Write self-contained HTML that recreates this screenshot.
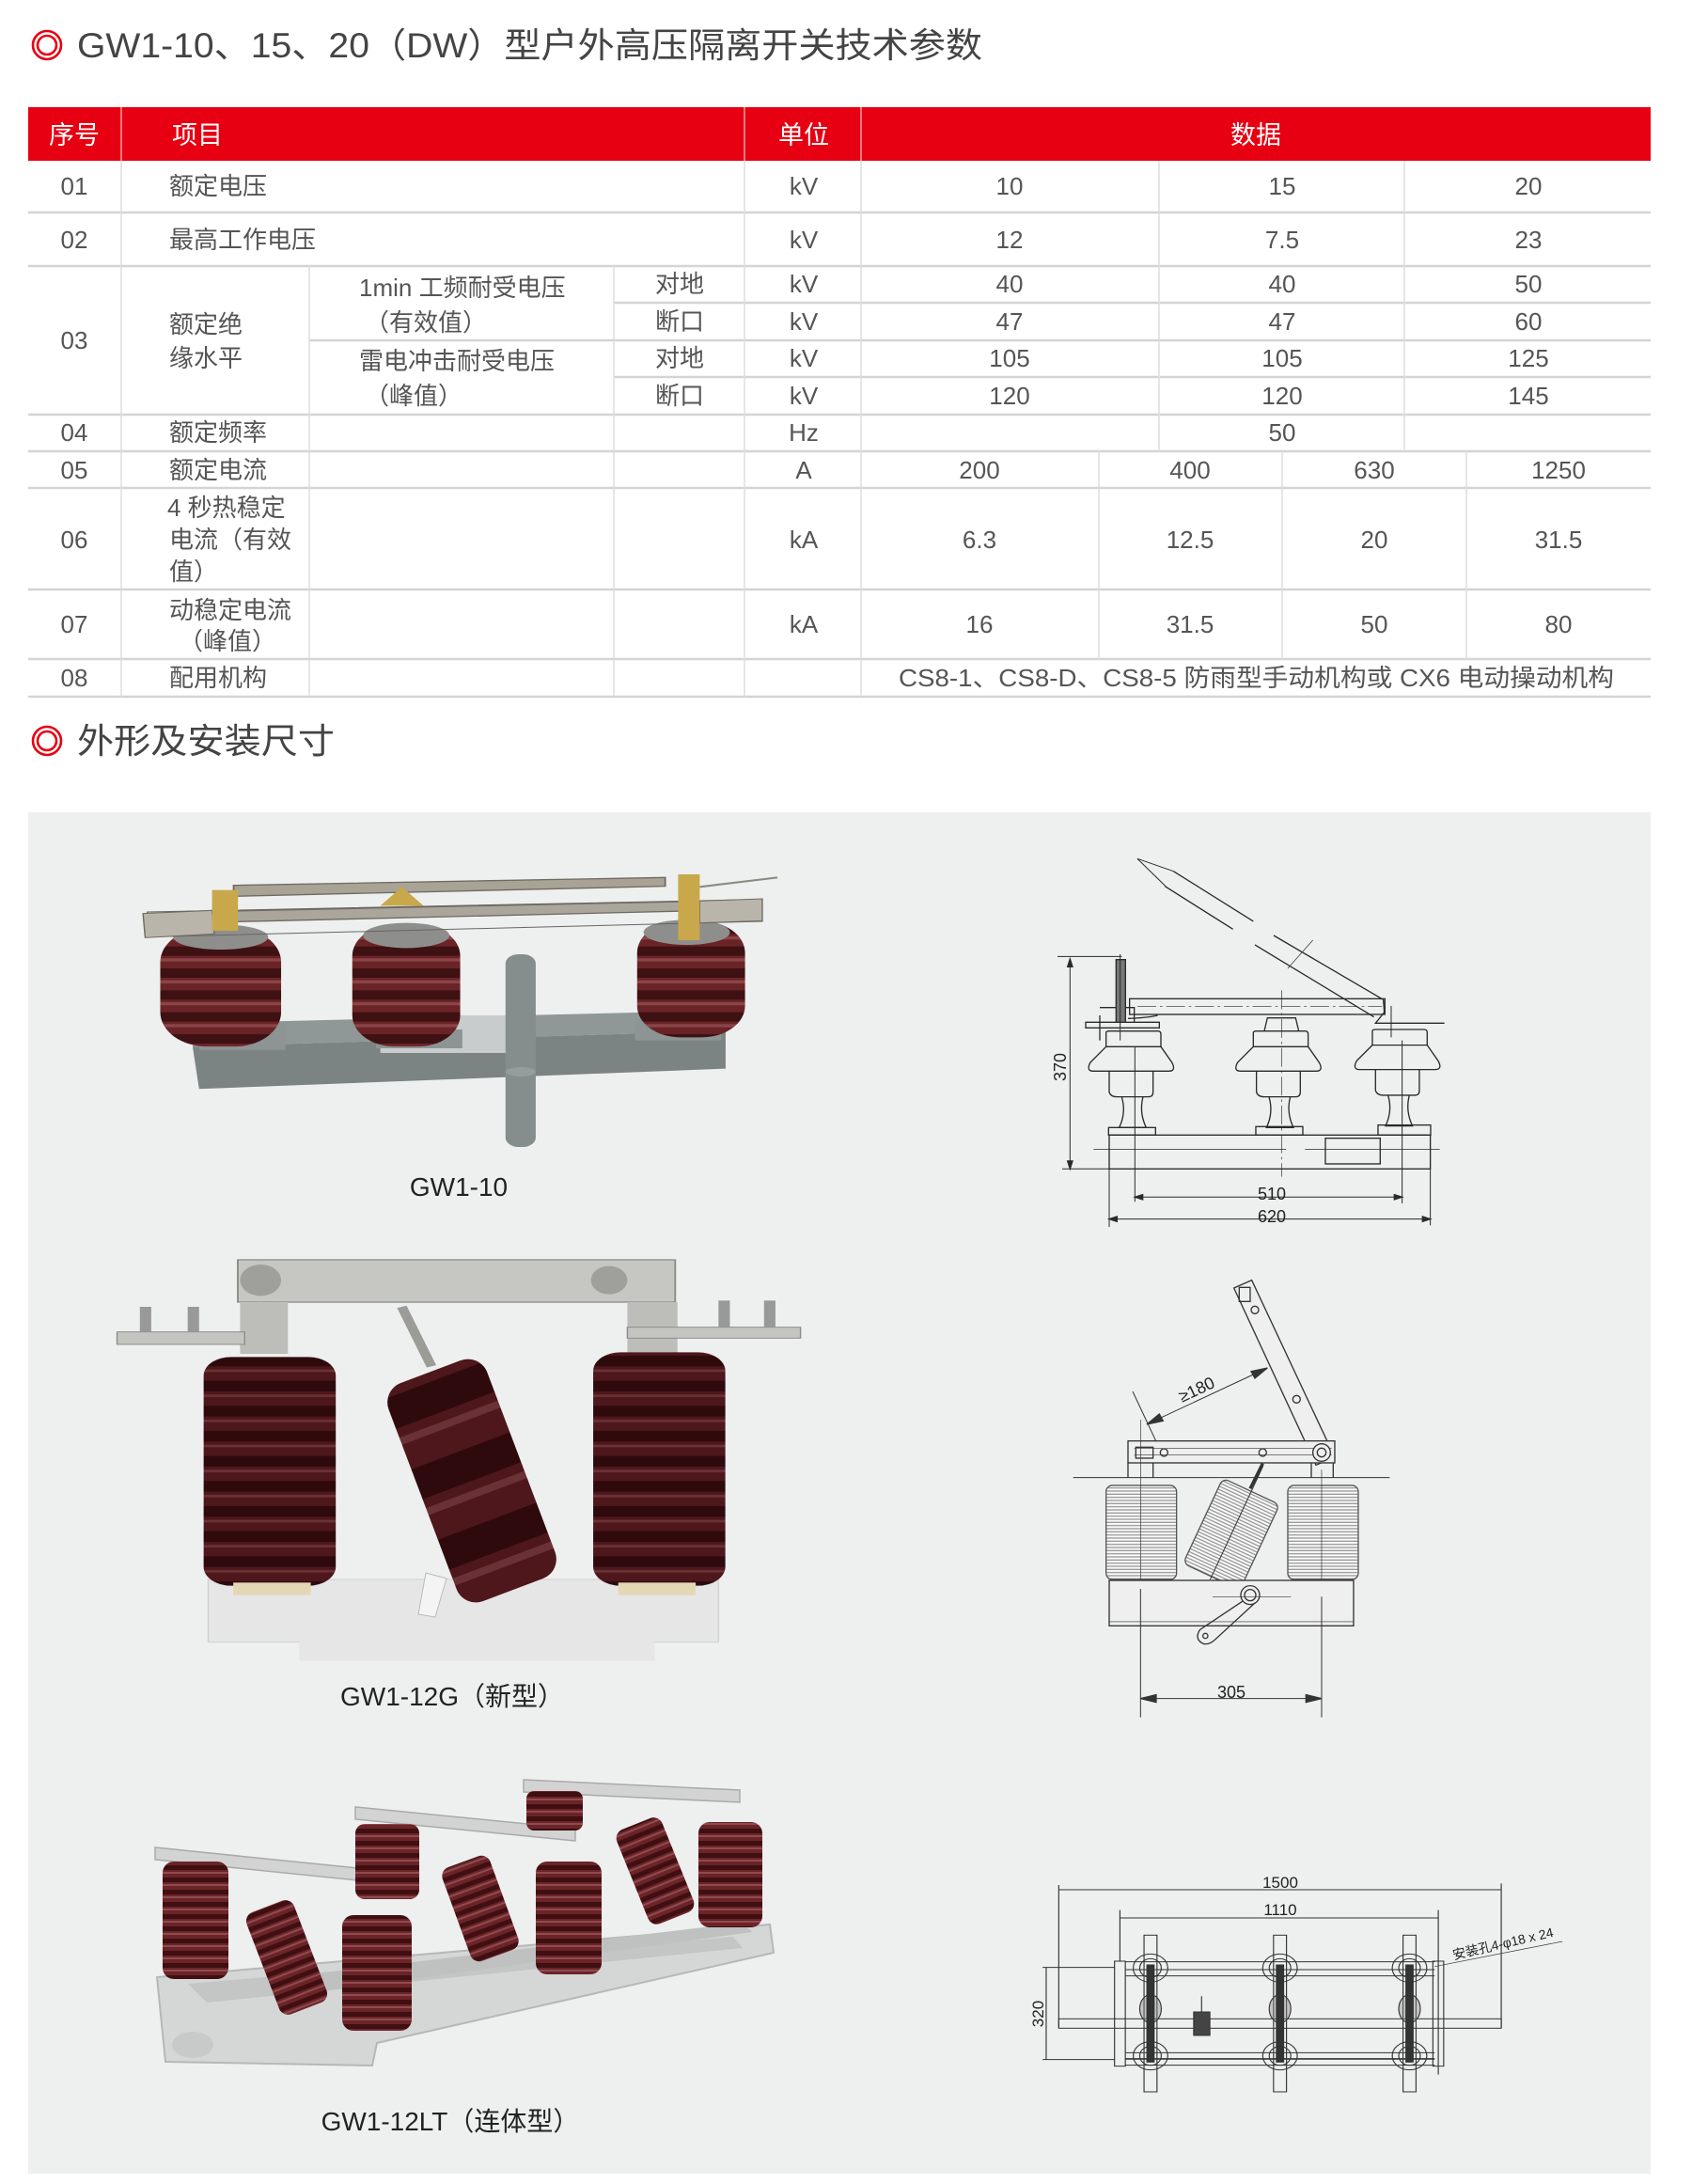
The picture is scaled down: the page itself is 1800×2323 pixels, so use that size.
<!DOCTYPE html>
<html><head><meta charset="utf-8"><style>
html,body{margin:0;padding:0;background:#fff}
svg{display:block}
text{font-family:"Liberation Sans","Noto Sans CJK SC",sans-serif}
</style></head><body>
<svg width="1800" height="2323" viewBox="0 0 1800 2323" xmlns="http://www.w3.org/2000/svg">
<defs>
<pattern id="p1" patternUnits="userSpaceOnUse" width="600" height="70"><rect width="600" height="70" fill="#3e1113"/><rect y="0" width="600" height="40" fill="#6a2326"/><rect y="8" width="600" height="10" fill="#8a4548"/></pattern>
<pattern id="p2" patternUnits="userSpaceOnUse" width="600" height="80"><rect width="600" height="80" fill="#2e0a0d"/><rect y="0" width="600" height="46" fill="#4d171b"/><rect y="10" width="600" height="8" fill="#6a3236"/></pattern>
<pattern id="p3" patternUnits="userSpaceOnUse" width="200" height="13"><rect width="200" height="13" fill="#3f0f12"/><rect width="200" height="8" fill="#6c2428"/><rect y="2" width="200" height="2" fill="#8d4c50"/></pattern>
<pattern id="ps" patternUnits="userSpaceOnUse" width="200" height="10"><rect width="200" height="10" fill="#fafafa"/><rect y="6" width="200" height="4" fill="#999"/></pattern>
</defs>

<circle cx="50" cy="48" r="15" fill="none" stroke="#e60012" stroke-width="2.6"/>
<circle cx="50" cy="48" r="10" fill="none" stroke="#e60012" stroke-width="2.6"/>
<text x="82" y="61" font-size="37" fill="#444" textLength="963" lengthAdjust="spacingAndGlyphs">GW1-10、15、20（DW）型户外高压隔离开关技术参数</text>

<g transform="translate(0,-2)">
<rect x="30" y="116" width="1726" height="57" fill="#e60012"/>
<g stroke="#f2a0a0" stroke-width="1.5"><line x1="129" y1="116" x2="129" y2="173"/><line x1="792" y1="116" x2="792" y2="173"/><line x1="916" y1="116" x2="916" y2="173"/></g>
<g fill="#fff" font-size="27">
<text x="79" y="155" text-anchor="middle">序号</text>
<text x="183" y="155">项目</text>
<text x="855" y="155" text-anchor="middle">单位</text>
<text x="1336" y="155" text-anchor="middle">数据</text>
</g>
<g stroke="#d4d4d4" stroke-width="2.5">
<line x1="30" y1="228" x2="1756" y2="228"/>
<line x1="30" y1="285" x2="1756" y2="285"/>
<line x1="30" y1="443" x2="1756" y2="443"/>
<line x1="30" y1="482" x2="1756" y2="482"/>
<line x1="30" y1="521" x2="1756" y2="521"/>
<line x1="30" y1="629" x2="1756" y2="629"/>
<line x1="30" y1="703" x2="1756" y2="703"/>
<line x1="30" y1="743" x2="1756" y2="743"/>
<line x1="653" y1="324" x2="1756" y2="324"/>
<line x1="329" y1="364" x2="1756" y2="364"/>
<line x1="653" y1="403" x2="1756" y2="403"/>
</g>
<g stroke="#dedede" stroke-width="1.5">
<line x1="129" y1="173" x2="129" y2="743"/>
<line x1="329" y1="285" x2="329" y2="743"/>
<line x1="653" y1="285" x2="653" y2="743"/>
<line x1="792" y1="173" x2="792" y2="743"/>
<line x1="916" y1="173" x2="916" y2="743"/>
<line x1="1233" y1="173" x2="1233" y2="482"/>
<line x1="1494" y1="173" x2="1494" y2="482"/>
<line x1="1169" y1="482" x2="1169" y2="703"/>
<line x1="1364" y1="482" x2="1364" y2="703"/>
<line x1="1560" y1="482" x2="1560" y2="703"/>
</g>
<g fill="#555" font-size="26">
<g text-anchor="middle">
<text x="79" y="209">01</text><text x="855" y="209">kV</text><text x="1074" y="209">10</text><text x="1364" y="209">15</text><text x="1626" y="209">20</text>
<text x="79" y="266">02</text><text x="855" y="266">kV</text><text x="1074" y="266">12</text><text x="1364" y="266">7.5</text><text x="1626" y="266">23</text>
<text x="723" y="313">对地</text><text x="855" y="313">kV</text><text x="1074" y="313">40</text><text x="1364" y="313">40</text><text x="1626" y="313">50</text>
<text x="723" y="353">断口</text><text x="855" y="353">kV</text><text x="1074" y="353">47</text><text x="1364" y="353">47</text><text x="1626" y="353">60</text>
<text x="723" y="392">对地</text><text x="855" y="392">kV</text><text x="1074" y="392">105</text><text x="1364" y="392">105</text><text x="1626" y="392">125</text>
<text x="723" y="432">断口</text><text x="855" y="432">kV</text><text x="1074" y="432">120</text><text x="1364" y="432">120</text><text x="1626" y="432">145</text>
<text x="79" y="373">03</text>
<text x="79" y="471">04</text><text x="855" y="471">Hz</text><text x="1364" y="471">50</text>
<text x="79" y="511">05</text><text x="855" y="511">A</text><text x="1042" y="511">200</text><text x="1266" y="511">400</text><text x="1462" y="511">630</text><text x="1658" y="511">1250</text>
<text x="79" y="585">06</text><text x="855" y="585">kA</text><text x="1042" y="585">6.3</text><text x="1266" y="585">12.5</text><text x="1462" y="585">20</text><text x="1658" y="585">31.5</text>
<text x="79" y="675">07</text><text x="855" y="675">kA</text><text x="1042" y="675">16</text><text x="1266" y="675">31.5</text><text x="1462" y="675">50</text><text x="1658" y="675">80</text>
<text x="79" y="732">08</text>
</g>
<text x="180" y="209">额定电压</text>
<text x="180" y="266">最高工作电压</text>
<text x="180" y="356">额定绝</text><text x="180" y="392">缘水平</text>
<text x="382" y="317">1min 工频耐受电压</text><text x="388" y="354">（有效值）</text>
<text x="382" y="395">雷电冲击耐受电压</text><text x="388" y="432">（峰值）</text>
<text x="180" y="471">额定频率</text>
<text x="180" y="511">额定电流</text>
<text x="178" y="551">4 秒热稳定</text><text x="180" y="585">电流（有效</text><text x="180" y="619">值）</text>
<text x="180" y="660">动稳定电流</text><text x="190" y="693">（峰值）</text>
<text x="180" y="732">配用机构</text>
<text x="956" y="732" textLength="761" lengthAdjust="spacingAndGlyphs">CS8-1、CS8-D、CS8-5 防雨型手动机构或 CX6 电动操动机构</text>
</g>
</g>

<circle cx="50" cy="788" r="15" fill="none" stroke="#e60012" stroke-width="2.6"/>
<circle cx="50" cy="788" r="10" fill="none" stroke="#e60012" stroke-width="2.6"/>
<text x="82" y="801" font-size="37" fill="#444" textLength="274" lengthAdjust="spacingAndGlyphs">外形及安装尺寸</text>

<rect x="30" y="864" width="1726" height="1448" fill="#eeefef"/>

<g transform="translate(120,900) scale(0.4591,0.3333)">
<polygon points="195,565 1400,525 1420,590 185,640" fill="#8f9797"/>
<polygon points="185,640 1420,590 1420,710 200,775" fill="#7b8383"/>
<rect x="620" y="540" width="325" height="120" fill="#c9cccc"/>
<rect x="910" y="345" width="70" height="615" rx="30" fill="#858d8d"/>
<ellipse cx="945" cy="720" rx="35" ry="15" fill="#959d9d"/>
<rect x="200" y="565" width="200" height="85" fill="#8c9494"/>
<rect x="610" y="585" width="200" height="60" fill="#8c9494"/>
<rect x="1210" y="550" width="200" height="70" fill="#8c9494"/>
<rect x="110" y="260" width="280" height="380" rx="110" fill="url(#p1)"/>
<rect x="555" y="250" width="250" height="390" rx="100" fill="url(#p1)"/>
<rect x="1215" y="240" width="250" height="370" rx="100" fill="url(#p1)"/>
<ellipse cx="250" cy="290" rx="110" ry="40" fill="#8e8f8c"/>
<ellipse cx="680" cy="285" rx="100" ry="40" fill="#8e8f8c"/>
<ellipse cx="1330" cy="275" rx="100" ry="40" fill="#8e8f8c"/>
<polygon points="280,125 1280,100 1280,128 280,160" fill="#a9a396" stroke="#6f6a60" stroke-width="4"/>
<polygon points="80,210 1500,170 1505,240 80,290" fill="none" stroke="#666" stroke-width="3"/>
<polygon points="170,210 1390,175 1390,205 170,245" fill="#aaa69b" stroke="#6f6a60" stroke-width="4"/>
<polygon points="70,215 230,205 235,280 75,292" fill="#b9b5ab" stroke="#6f6a60" stroke-width="3"/>
<polygon points="1360,175 1505,168 1505,238 1360,245" fill="#b9b5ab" stroke="#6f6a60" stroke-width="3"/>
<rect x="230" y="140" width="60" height="130" fill="#c8a84a"/>
<rect x="1310" y="90" width="50" height="210" fill="#c8a84a"/>
<polygon points="620,190 670,130 720,190" fill="#c8a84a"/>
<line x1="1360" y1="130" x2="1540" y2="100" stroke="#8a8a80" stroke-width="6"/>
</g>
<text x="488" y="1272" font-size="28" fill="#222" text-anchor="middle">GW1-10</text>

<g transform="translate(110,1320) scale(0.4847,0.3333)">
<rect x="230" y="1080" width="1120" height="200" fill="#e6e6e6" stroke="#d0d0d0" stroke-width="3"/>
<rect x="430" y="1270" width="780" height="70" fill="#e6e6e6"/>
<rect x="295" y="60" width="960" height="135" fill="#c6c7c3" stroke="#8d8e8a" stroke-width="4"/>
<ellipse cx="345" cy="125" rx="45" ry="50" fill="#9fa09c"/>
<ellipse cx="1110" cy="125" rx="40" ry="45" fill="#9fa09c"/>
<rect x="300" y="195" width="105" height="165" fill="#bdbeba"/>
<rect x="1150" y="195" width="110" height="165" fill="#bdbeba"/>
<rect x="30" y="290" width="280" height="40" fill="#c4c5c1" stroke="#8d8e8a" stroke-width="3"/>
<rect x="1150" y="275" width="380" height="35" fill="#c4c5c1" stroke="#8d8e8a" stroke-width="3"/>
<rect x="80" y="210" width="25" height="80" fill="#999"/><rect x="185" y="210" width="25" height="80" fill="#999"/>
<rect x="1350" y="190" width="25" height="85" fill="#999"/><rect x="1450" y="190" width="25" height="85" fill="#999"/>
<line x1="655" y1="210" x2="720" y2="400" stroke="#9b9c98" stroke-width="22"/>
<rect x="220" y="370" width="290" height="730" rx="60" fill="url(#p2)"/>
<rect x="1075" y="355" width="290" height="745" rx="60" fill="url(#p2)"/>
<rect x="285" y="1090" width="170" height="40" fill="#e4d7b5"/>
<rect x="1130" y="1090" width="170" height="40" fill="#e4d7b5"/>
</g>
<g transform="translate(502,1575) rotate(-20.7)">
<rect x="-56" y="-124" width="112" height="248" rx="22" fill="url(#p2)"/>
</g>
<polygon points="453,1673 475,1679 463,1720 445,1717" fill="#f4f4f4" stroke="#bbb" stroke-width="1"/>
<text x="481" y="1814" font-size="28" fill="#222" text-anchor="middle">GW1-12G（新型）</text>

<polygon points="167,2103 819,2047 823,2077 401,2173 396,2197 176,2193" fill="#d5d7d7" stroke="#b6b8b8" stroke-width="2"/>
<polygon points="200,2110 780,2060 790,2072 220,2130" fill="#c4c6c6"/>
<polygon points="330,2100 790,2045 800,2055 330,2120" fill="#bfc1c1"/>
<g stroke="#a9abab" stroke-width="1.5">
<polygon points="165,1965 410,1990 410,2003 165,1978" fill="#d2d3d2"/>
<polygon points="378,1922 612,1945 612,1958 378,1935" fill="#d2d3d2"/>
<polygon points="557,1893 787,1904 787,1917 557,1906" fill="#d2d3d2"/>
</g>
<rect x="378" y="1940" width="68" height="80" rx="10" fill="url(#p3)"/>
<rect x="560" y="1905" width="60" height="42" rx="8" fill="url(#p3)"/>
<rect x="173" y="1980" width="70" height="125" rx="12" fill="url(#p3)"/>
<g transform="translate(305,2082) rotate(-21)"><rect x="-27" y="-58" width="54" height="116" rx="10" fill="url(#p3)"/></g>
<g transform="translate(511,2030) rotate(-20)"><rect x="-27" y="-53" width="54" height="106" rx="10" fill="url(#p3)"/></g>
<g transform="translate(697,1990) rotate(-22)"><rect x="-26" y="-54" width="52" height="108" rx="10" fill="url(#p3)"/></g>
<rect x="743" y="1938" width="68" height="112" rx="12" fill="url(#p3)"/>
<rect x="570" y="1980" width="70" height="120" rx="12" fill="url(#p3)"/>
<rect x="364" y="2037" width="74" height="123" rx="12" fill="url(#p3)"/>
<ellipse cx="205" cy="2175" rx="22" ry="14" fill="#c8caca"/>
<text x="479" y="2266" font-size="28" fill="#222" text-anchor="middle">GW1-12LT（连体型）</text>

<g transform="translate(1100,900) scale(0.3333)" fill="none" stroke="#2a2a2a" stroke-width="4">
<line x1="75" y1="352" x2="280" y2="352" stroke-width="3"/>
<line x1="90" y1="1030" x2="240" y2="1030" stroke-width="3"/>
<line x1="115" y1="360" x2="115" y2="1030" stroke-width="3"/>
<polygon points="115,360 107,385 123,385" fill="#2a2a2a"/>
<polygon points="115,1030 107,1005 123,1005" fill="#2a2a2a"/>
<line x1="322" y1="640" x2="322" y2="1135" stroke-width="3"/>
<line x1="1175" y1="620" x2="1175" y2="1140" stroke-width="3"/>
<line x1="322" y1="1120" x2="1175" y2="1120" stroke-width="3"/>
<polygon points="322,1120 347,1112 347,1128" fill="#2a2a2a"/>
<polygon points="1175,1120 1150,1112 1150,1128" fill="#2a2a2a"/>
<line x1="240" y1="1030" x2="240" y2="1215" stroke-width="3"/>
<line x1="1265" y1="1030" x2="1265" y2="1210" stroke-width="3"/>
<line x1="240" y1="1190" x2="1265" y2="1190" stroke-width="3"/>
<polygon points="240,1190 265,1182 265,1198" fill="#2a2a2a"/>
<polygon points="1265,1190 1240,1182 1240,1198" fill="#2a2a2a"/>
<rect x="240" y="922" width="1025" height="108"/>
<rect x="930" y="932" width="175" height="82"/>
<rect x="238" y="898" width="150" height="24"/>
<rect x="708" y="895" width="150" height="27"/>
<rect x="1098" y="890" width="168" height="32"/>
<line x1="190" y1="968" x2="805" y2="968" stroke-width="2"/>
<line x1="865" y1="968" x2="1295" y2="968" stroke-width="2"/>
<line x1="790" y1="460" x2="790" y2="1055" stroke-width="2" stroke-dasharray="60,12,8,12"/>
<g id="ins1">
<path d="M230,595 Q230,590 240,590 L395,590 Q405,590 405,600 L405,640 L230,640 Z"/>
<path d="M230,640 L180,690 Q165,718 190,718 L430,718 Q455,718 440,690 L405,640"/>
<path d="M240,718 L240,785 Q245,800 265,800 L365,800 Q380,800 380,785 L380,718"/>
<path d="M280,800 Q295,850 272,898 L358,898 Q335,850 348,800"/>
</g>
<use href="#ins1" transform="translate(470,0)"/>
<use href="#ins1" transform="translate(850,-5)"/>
<path d="M735,590 L745,548 L835,548 L845,590"/>
<rect x="305" y="487" width="815" height="50"/>
<line x1="330" y1="512" x2="1110" y2="512" stroke-width="2" stroke-dasharray="60,12,8,12"/>
<path d="M165,562 L400,562 L400,580 L165,580 Z"/>
<path d="M210,515 L320,515 L320,560"/>
<line x1="210" y1="540" x2="210" y2="620"/>
<rect x="262" y="362" width="30" height="200" fill="#777"/>
<line x1="275" y1="345" x2="275" y2="620" stroke-width="3"/>
<path d="M300,550 Q360,548 395,540"/>
<line x1="445" y1="80" x2="700" y2="240"/>
<line x1="418" y1="128" x2="635" y2="265"/>
<line x1="765" y1="285" x2="1115" y2="490"/>
<line x1="705" y1="315" x2="1085" y2="545"/>
<line x1="330" y1="40" x2="445" y2="80" stroke-width="3"/>
<line x1="330" y1="40" x2="420" y2="128" stroke-width="3"/>
<path d="M1115,490 L1118,530 L1090,565 L1310,565"/>
<line x1="1140" y1="510" x2="1140" y2="610" stroke-width="3"/>
<line x1="810" y1="390" x2="890" y2="300" stroke-width="2"/>
</g>
<g font-size="18" fill="#222" text-anchor="middle">
<text x="1353" y="1276">510</text>
<text x="1353" y="1300">620</text>
<text x="1134" y="1135" transform="rotate(-90 1134 1135)">370</text>
</g>

<g transform="translate(1130,1350) scale(0.3333)" fill="none" stroke="#333" stroke-width="4">
<polygon points="548,60 605,35 870,600 810,625" fill="#efefef"/>
<rect x="565" y="58" width="35" height="45"/>
<circle cx="615" cy="130" r="12"/><circle cx="748" cy="415" r="12"/>
<rect x="210" y="548" width="660" height="70" fill="#efefef"/>
<line x1="230" y1="572" x2="860" y2="572" stroke-width="2"/>
<line x1="230" y1="592" x2="860" y2="592" stroke-width="2"/>
<rect x="235" y="568" width="55" height="35"/>
<circle cx="325" cy="585" r="12"/><circle cx="640" cy="585" r="12"/>
<circle cx="828" cy="585" r="28" fill="#efefef"/><circle cx="828" cy="585" r="14"/>
<line x1="210" y1="618" x2="210" y2="665"/><line x1="290" y1="618" x2="290" y2="665"/>
<line x1="795" y1="618" x2="795" y2="665"/><line x1="865" y1="618" x2="865" y2="665"/>
<line x1="35" y1="665" x2="1045" y2="665" stroke-width="3"/>
<rect x="140" y="690" width="225" height="300" rx="20" fill="url(#ps)" stroke="#555"/>
<rect x="720" y="690" width="225" height="300" rx="20" fill="url(#ps)" stroke="#555"/>
<line x1="250" y1="480" x2="250" y2="1000" stroke-width="2"/>
<line x1="828" y1="640" x2="828" y2="1000" stroke-width="2"/>
<g transform="translate(540,845) rotate(25)"><rect x="-100" y="-150" width="200" height="300" rx="20" fill="url(#ps)" stroke="#555"/><line x1="0" y1="-240" x2="0" y2="160" stroke-width="3"/></g>
<line x1="600" y1="700" x2="640" y2="620" stroke-width="10"/>
<rect x="150" y="993" width="780" height="145" fill="#efefef"/>
<line x1="150" y1="1125" x2="930" y2="1125" stroke-width="2"/>
<circle cx="600" cy="1040" r="30"/><circle cx="600" cy="1040" r="18"/>
<line x1="480" y1="1045" x2="730" y2="1045" stroke-width="2"/>
<path d="M575,1060 L440,1150 Q420,1180 450,1195 Q470,1200 490,1180 L615,1065"/>
<circle cx="457" cy="1170" r="8"/>
<line x1="250" y1="1020" x2="250" y2="1430" stroke-width="3"/>
<line x1="828" y1="1045" x2="828" y2="1430" stroke-width="3"/>
<line x1="250" y1="1370" x2="828" y2="1370" stroke-width="3"/>
<polygon points="250,1370 300,1358 300,1382" fill="#333"/>
<polygon points="828,1370 778,1358 778,1382" fill="#333"/>
<line x1="225" y1="390" x2="300" y2="550" stroke-width="3"/>
<line x1="270" y1="495" x2="655" y2="315" stroke-width="3"/>
<polygon points="270,495 310,462 322,484" fill="#333"/>
<polygon points="655,315 615,348 603,326" fill="#333"/>
</g>
<g font-size="18" fill="#222" text-anchor="middle">
<text x="1310" y="1806">305</text>
<text x="1273" y="1484" transform="rotate(-25 1273 1478)">≥180</text>
</g>

<g transform="translate(1090,1980) scale(0.3827,0.3333)" fill="none" stroke="#333" stroke-width="3">
<line x1="95" y1="90" x2="1325" y2="90"/>
<line x1="95" y1="75" x2="95" y2="530"/><line x1="1325" y1="70" x2="1325" y2="530"/>
<line x1="265" y1="180" x2="1150" y2="180"/>
<line x1="265" y1="155" x2="265" y2="320"/><line x1="1150" y1="155" x2="1150" y2="680"/>
<line x1="60" y1="338" x2="60" y2="632"/>
<line x1="50" y1="338" x2="250" y2="338"/><line x1="50" y1="632" x2="250" y2="632"/>
<line x1="280" y1="320" x2="1140" y2="320"/><line x1="280" y1="345" x2="1140" y2="345"/><line x1="280" y1="365" x2="1140" y2="365"/>
<line x1="280" y1="610" x2="1140" y2="610"/><line x1="280" y1="630" x2="1140" y2="630" stroke-width="5"/><line x1="280" y1="650" x2="1140" y2="650"/>
<rect x="95" y="502" width="1230" height="30"/>
<rect x="250" y="318" width="30" height="335"/><rect x="1135" y="318" width="30" height="335"/>
<g id="post">
<rect x="332" y="235" width="36" height="500"/>
<ellipse cx="350" cy="340" rx="48" ry="45"/><ellipse cx="350" cy="340" rx="30" ry="30"/>
<ellipse cx="350" cy="470" rx="30" ry="45" fill="#888" fill-opacity="0.4"/>
<ellipse cx="350" cy="620" rx="48" ry="45"/><ellipse cx="350" cy="620" rx="30" ry="30"/>
<rect x="340" y="330" width="20" height="310" fill="#333"/>
</g>
<use href="#post" transform="translate(360,0)"/>
<use href="#post" transform="translate(720,0)"/>
<rect x="470" y="480" width="45" height="75" fill="#444"/>
<line x1="492" y1="430" x2="492" y2="480"/>
<line x1="1140" y1="335" x2="1495" y2="255" stroke-width="2"/>
</g>
<g font-size="17" fill="#222" text-anchor="middle">
<text x="1362" y="2008">1500</text>
<text x="1362" y="2037">1110</text>
<text x="1110" y="2142" transform="rotate(-90 1110 2142)">320</text>
<text x="1600" y="2072" font-size="14" transform="rotate(-13 1600 2072)">安装孔4-φ18 x 24</text>
</g>
</svg>
</body></html>
